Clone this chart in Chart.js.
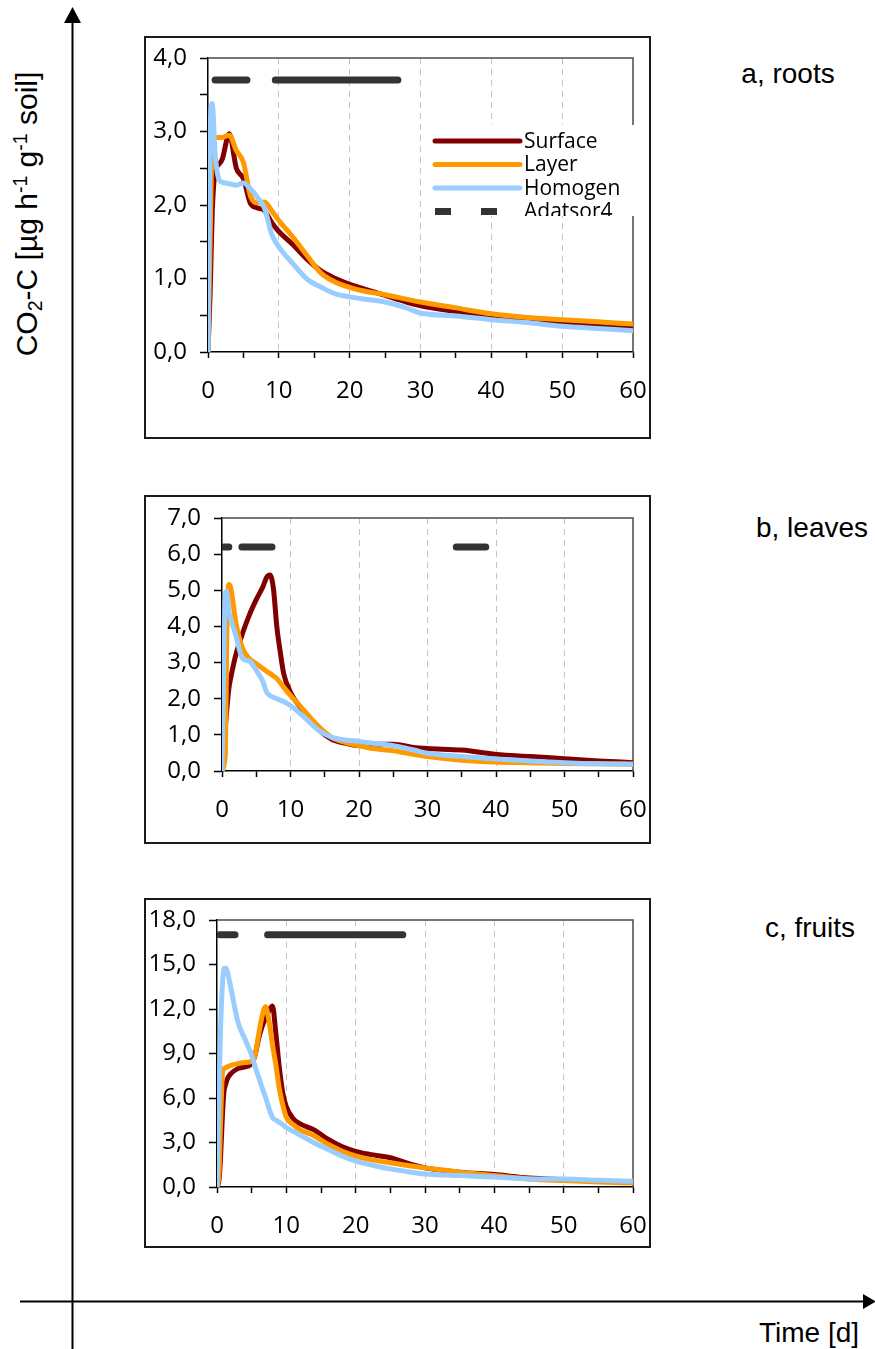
<!DOCTYPE html>
<html>
<head>
<meta charset="utf-8">
<script src="https://cdn.jsdelivr.net/npm/chart.js@4.4.1/dist/chart.umd.min.js"></script>
<style>
  html, body { margin: 0; padding: 0; background: #fff; }
  body { width: 875px; height: 1349px; position: relative; overflow: hidden;
         font-family: "Liberation Sans", Arial, sans-serif; color: #000; }
  canvas.panel { position: absolute; }
  .frame { position: absolute; border: 2px solid #1a1a1a; box-sizing: border-box; pointer-events: none; }
  .tag { position: absolute; font-size: 28px; white-space: nowrap; transform: translate(-50%, -50%); }
  .ytitle { position: absolute; font-size: 30px; white-space: nowrap;
            transform: translate(-50%, -50%) rotate(-90deg); }
  .ytitle sub, .ytitle sup { font-size: 65%; }
  .ytitle sup { vertical-align: 0.55em; }
  .ytitle sub { vertical-align: -0.25em; }
  svg.axes { position: absolute; left: 0; top: 0; }
</style>
</head>
<body>

<svg class="axes" width="875" height="1349">
  <line x1="72.5" y1="20" x2="72.5" y2="1349" stroke="#000" stroke-width="2"/>
  <polygon points="72.5,7 64,23 81,23" fill="#000"/>
  <line x1="20" y1="1301.5" x2="865" y2="1301.5" stroke="#000" stroke-width="2"/>
  <polygon points="876,1301.5 863,1294 863,1309" fill="#000"/>
</svg>

<div class="ytitle" style="left:28px; top:214px;">CO<sub>2</sub>-C [µg h<sup>-1</sup> g<sup>-1</sup> soil]</div>
<div class="tag" style="left:809px; top:1333px;">Time [d]</div>

<div class="tag" style="left:788px; top:74px;">a, roots</div>
<div class="tag" style="left:812px; top:528px;">b, leaves</div>
<div class="tag" style="left:810px; top:928px;">c, fruits</div>

<canvas id="roots" class="panel" width="507" height="403" style="left:144px; top:36px;"></canvas>
<div class="frame" style="left:144px; top:36px; width:507px; height:403px;"></div>

<canvas id="leaves" class="panel" width="507" height="349" style="left:144px; top:495px;"></canvas>
<div class="frame" style="left:144px; top:495px; width:507px; height:349px;"></div>

<canvas id="fruits" class="panel" width="507" height="350" style="left:144px; top:898px;"></canvas>
<div class="frame" style="left:144px; top:898px; width:507px; height:350px;"></div>

<script>
// Series names and colours
const seriesNames = ['Surface', 'Layer', 'Homogen', 'Adatsor4'];
const seriesColors = ['#800000', '#FF9900', '#99CCFF', '#333333'];

// ---- a, roots ----
const rootsDays = [0, 0.3, 0.6, 1, 1.5, 2, 3, 4, 5, 6, 7, 8, 9, 10, 12, 14, 16, 18, 20, 22, 25, 28, 30, 35, 40, 45, 50, 55, 60];
const rootsSurface = [0, 0.8, 1.9, 2.45, 2.55, 2.62, 2.97, 2.5, 2.36, 2.02, 1.96, 1.92, 1.76, 1.64, 1.46, 1.26, 1.10, 1.0, 0.92, 0.86, 0.77, 0.68, 0.63, 0.55, 0.48, 0.43, 0.38, 0.35, 0.32];
const rootsLayer = [0, 1.5, 2.85, 2.92, 2.92, 2.92, 2.95, 2.74, 2.58, 2.12, 2.03, 2.04, 1.92, 1.79, 1.56, 1.31, 1.07, 0.95, 0.88, 0.83, 0.78, 0.72, 0.68, 0.60, 0.52, 0.47, 0.44, 0.41, 0.38];
const rootsHomogen = [0, 3.0, 3.38, 2.7, 2.36, 2.31, 2.29, 2.27, 2.30, 2.22, 2.1, 1.95, 1.6, 1.43, 1.20, 0.99, 0.88, 0.79, 0.75, 0.72, 0.68, 0.60, 0.53, 0.49, 0.44, 0.40, 0.35, 0.32, 0.29];
const rootsMarkSpans = [[1.0, 5.5], [9.5, 26.8]];
const rootsMarkLevel = 3.7;
const rootsYTicks = { max: 4, step: 0.5, labelEvery: 1 };

// ---- b, leaves ----
const leavesDays = [0, 0.5, 0.7, 1, 1.3, 2, 3, 4, 5, 6, 6.5, 7, 7.5, 8, 8.5, 9, 10, 12, 14, 16, 18, 20, 22, 25, 28, 30, 35, 40, 45, 50, 55, 60];
const leavesSurface = [0, 1.25, 1.7, 2.28, 2.6, 3.2, 3.81, 4.32, 4.74, 5.11, 5.35, 5.42, 5.06, 4.0, 3.3, 2.7, 2.18, 1.63, 1.16, 0.88, 0.77, 0.70, 0.74, 0.74, 0.65, 0.62, 0.58, 0.46, 0.40, 0.34, 0.28, 0.23];
const leavesLayer = [0, 0.5, 3.8, 5.16, 5.05, 4.13, 3.39, 3.11, 2.97, 2.83, 2.76, 2.70, 2.63, 2.56, 2.45, 2.32, 2.09, 1.67, 1.25, 0.93, 0.79, 0.70, 0.62, 0.56, 0.46, 0.40, 0.30, 0.25, 0.23, 0.21, 0.20, 0.19];
const leavesHomogen = [0, 4.88, 4.97, 4.41, 4.2, 3.76, 3.11, 3.04, 2.79, 2.46, 2.18, 2.09, 2.04, 2.0, 1.96, 1.92, 1.81, 1.49, 1.14, 0.93, 0.86, 0.82, 0.77, 0.70, 0.58, 0.49, 0.40, 0.33, 0.28, 0.23, 0.20, 0.19];
const leavesMarkSpans = [[0.3, 1.0], [2.9, 7.3], [34.2, 38.5]];
const leavesMarkLevel = 6.2;
const leavesYTicks = { max: 7, step: 1, labelEvery: 1 };

// ---- c, fruits ----
const fruitsDays = [0, 0.3, 0.5, 0.8, 1, 1.3, 1.5, 2, 3, 4, 5, 5.5, 6, 6.5, 7, 7.5, 8, 8.5, 9, 9.5, 10, 11, 12, 14, 16, 18, 20, 22, 25, 28, 30, 35, 40, 45, 50, 55, 60];
const fruitsSurface = [0, 0.5, 1.86, 5.0, 6.4, 7.0, 7.3, 7.64, 7.98, 8.1, 8.32, 8.89, 10.0, 10.8, 11.4, 11.9, 12.2, 10.3, 8.0, 6.3, 5.4, 4.6, 4.25, 3.85, 3.22, 2.72, 2.40, 2.20, 1.97, 1.52, 1.29, 1.0, 0.84, 0.61, 0.50, 0.41, 0.34];
const fruitsLayer = [0, 1.0, 4.1, 7.76, 7.98, 8.05, 8.1, 8.2, 8.32, 8.39, 8.48, 8.89, 10.25, 11.5, 12.15, 11.2, 9.6, 8.2, 6.6, 5.5, 4.7, 4.2, 3.85, 3.45, 2.88, 2.43, 2.09, 1.86, 1.63, 1.41, 1.29, 1.0, 0.77, 0.54, 0.43, 0.34, 0.27];
const fruitsHomogen = [0, 6.4, 10.5, 13.8, 14.74, 14.74, 14.5, 13.42, 11.16, 10.0, 8.89, 8.1, 7.41, 6.7, 6.05, 5.3, 4.69, 4.5, 4.35, 4.2, 4.01, 3.75, 3.49, 2.99, 2.54, 2.09, 1.75, 1.52, 1.22, 1.0, 0.88, 0.77, 0.68, 0.54, 0.54, 0.45, 0.39];
const fruitsMarkSpans = [[0.4, 2.6], [7.3, 26.8]];
const fruitsMarkLevel = 17;
const fruitsYTicks = { max: 18, step: 3, labelEvery: 3 };

// Time axis
const dayMax = 60;
const dayStep = 5;
const dayLabelEvery = 10;

const TICK_FONT = { family: '"Open Sans", sans-serif', size: 24 };

function fmtComma(v) { return v.toFixed(1).replace('.', ','); }
function toPoints(days, values) { return days.map((d, i) => ({ x: d, y: values[i] })); }
function markPoints(spans, level) {
  const pts = [];
  spans.forEach((s, i) => {
    if (i > 0) pts.push({ x: (spans[i - 1][1] + s[0]) / 2, y: null });
    pts.push({ x: s[0], y: level }, { x: s[1], y: level });
  });
  return pts;
}

// Grey border along the top and right of the plot area
const plotBorder = {
  id: 'plotBorder',
  beforeDatasetsDraw(chart) {
    const a = chart.chartArea, ctx = chart.ctx;
    ctx.save();
    ctx.strokeStyle = '#4a4a4a';
    ctx.lineWidth = 1.5;
    ctx.beginPath();
    ctx.moveTo(a.left, a.top);
    ctx.lineTo(a.right, a.top);
    ctx.lineTo(a.right, a.bottom);
    ctx.stroke();
    ctx.restore();
  }
};

// Legend box drawn inside the roots panel
const insetLegend = {
  id: 'insetLegend',
  afterDatasetsDraw(chart, args, opts) {
    if (!opts.show) return;
    const ctx = chart.ctx;
    const box = opts.box;
    ctx.save();
    ctx.beginPath();
    ctx.rect(box.x, box.y, box.w, box.h);
    ctx.clip();
    ctx.fillStyle = '#fff';
    ctx.fillRect(box.x, box.y, box.w, box.h);
    chart.data.datasets.forEach((ds, i) => {
      const y = opts.rowTop + i * opts.rowGap;
      ctx.strokeStyle = ds.borderColor;
      if (ds.label === 'Adatsor4') {
        ctx.lineWidth = 7;
        ctx.lineCap = 'butt';
        ctx.setLineDash([16, 30]);
      } else {
        ctx.lineWidth = 5;
        ctx.lineCap = 'round';
        ctx.setLineDash([]);
      }
      ctx.beginPath();
      ctx.moveTo(opts.lineX0, y);
      ctx.lineTo(opts.lineX1, y);
      ctx.stroke();
      ctx.setLineDash([]);
      ctx.fillStyle = '#000';
      ctx.font = '21px "Open Sans", sans-serif';
      ctx.textBaseline = 'middle';
      ctx.textAlign = 'left';
      ctx.fillText(ds.label, opts.textX, y + 1);
    });
    ctx.restore();
  }
};

function makePanel(id, days, surface, layer, homogen, spans, level, yt, geom, legend) {
  const line = (name, idx, vals, order) => ({
    label: name,
    data: toPoints(days, vals),
    borderColor: seriesColors[idx],
    backgroundColor: seriesColors[idx],
    borderWidth: 5,
    pointRadius: 0,
    cubicInterpolationMode: 'monotone',
    borderJoinStyle: 'round',
    borderCapStyle: 'round',
    order: order
  });
  return new Chart(document.getElementById(id), {
    type: 'line',
    data: {
      datasets: [
        line(seriesNames[0], 0, surface, 3),
        line(seriesNames[1], 1, layer, 2),
        line(seriesNames[2], 2, homogen, 1),
        {
          label: seriesNames[3],
          data: markPoints(spans, level),
          borderColor: seriesColors[3],
          backgroundColor: seriesColors[3],
          borderWidth: 7,
          borderCapStyle: 'round',
          pointRadius: 0,
          spanGaps: false,
          order: 0
        }
      ]
    },
    options: {
      responsive: false,
      animation: false,
      events: [],
      layout: { padding: { left: 0, top: geom.top, right: geom.right, bottom: 0 } },
      plugins: {
        legend: { display: false },
        tooltip: { enabled: false },
        insetLegend: legend || { show: false }
      },
      scales: {
        x: {
          type: 'linear',
          min: 0, max: dayMax,
          afterFit: s => { s.height = geom.bottom; s.paddingLeft = 0; s.paddingRight = 0; },
          border: { display: true, color: '#000', width: 1.5, dash: [6, 5] },
          grid: {
            drawOnChartArea: true,
            drawTicks: true,
            tickLength: 6,
            tickColor: '#000',
            tickWidth: 1.5,
            lineWidth: 1,
            color: ctx => {
              const v = ctx.tick ? ctx.tick.value : 0;
              return (v % dayLabelEvery === 0 && v > 0 && v < dayMax) ? '#c4c4c4' : 'rgba(0,0,0,0)';
            }
          },
          ticks: {
            stepSize: dayStep,
            autoSkip: false,
            maxRotation: 0,
            padding: 19,
            color: '#000',
            font: TICK_FONT,
            callback: v => (v % dayLabelEvery === 0 ? String(v) : '')
          }
        },
        y: {
          type: 'linear',
          min: 0, max: yt.max,
          afterFit: s => { s.width = geom.left; s.paddingTop = 0; s.paddingBottom = 0; },
          border: { display: true, color: '#000', width: 1.5 },
          grid: {
            drawOnChartArea: false,
            drawTicks: true,
            tickLength: 8,
            tickColor: '#000',
            tickWidth: 1.5
          },
          ticks: {
            stepSize: yt.step,
            autoSkip: false,
            padding: 13,
            color: '#000',
            font: TICK_FONT,
            callback: v => {
              const r = v / yt.labelEvery;
              return Math.abs(r - Math.round(r)) < 1e-6 ? fmtComma(v) : '';
            }
          }
        }
      }
    },
    plugins: [plotBorder, insetLegend]
  });
}

makePanel('roots', rootsDays, rootsSurface, rootsLayer, rootsHomogen,
  rootsMarkSpans, rootsMarkLevel, rootsYTicks,
  { left: 64, top: 22, right: 18, bottom: 87 },
  { show: true, box: { x: 284, y: 89, w: 217, h: 91 },
    lineX0: 291, lineX1: 376, textX: 380, rowTop: 105, rowGap: 23.5 });

makePanel('leaves', leavesDays, leavesSurface, leavesLayer, leavesHomogen,
  leavesMarkSpans, leavesMarkLevel, leavesYTicks,
  { left: 78, top: 23, right: 18, bottom: 73 });

makePanel('fruits', fruitsDays, fruitsSurface, fruitsLayer, fruitsHomogen,
  fruitsMarkSpans, fruitsMarkLevel, fruitsYTicks,
  { left: 73, top: 22, right: 18, bottom: 61 });
</script>
</body>
</html>
